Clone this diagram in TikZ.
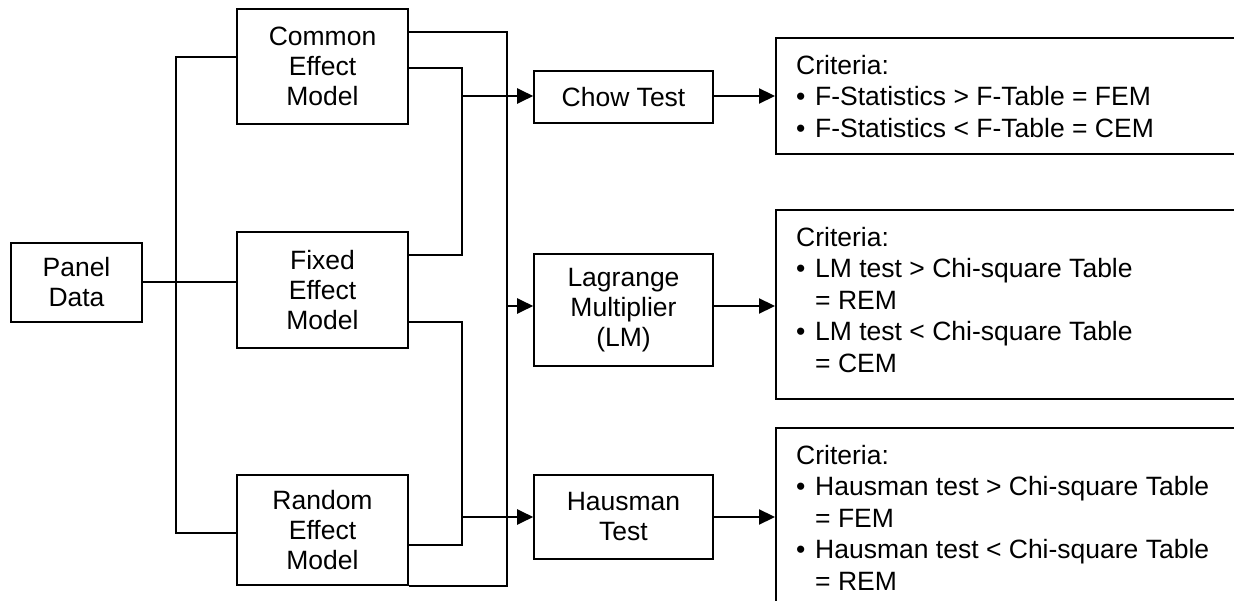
\documentclass[tikz,border=0pt]{standalone}
\usepackage{fontspec}
\setmainfont{Liberation Sans}
\usepackage{tikz}
\usetikzlibrary{arrows.meta}

\tikzset{
	box/.style = {draw, line width=1.6pt, align=center, inner sep=0pt, font=\fontsize{26.5}{30}\selectfont},
	frame/.style = {draw, line width=1.6pt, anchor=north west, inner sep=0pt, minimum width=600pt},
	crit/.style = {anchor=north west, align=left, inner sep=0pt, font=\fontsize{26.5}{31.5}\selectfont},
	wire/.style = {line width=1.6pt},
	flow/.style = {line width=2.2pt, -{Triangle[length=16pt,width=15pt]}}
}
\newcommand{\bul}{\makebox[19pt][l]{\textbullet}}
\newcommand{\hang}{\hspace*{19pt}}

\begin{document}
\begin{tikzpicture}[x=1pt,y=-1pt]
	\path [use as bounding box, clip] (0,0) rectangle (1234,601);
	\node [box, minimum width=131pt, minimum height=79pt] (pd) at (76.5,282.5) {Panel\\Data};
	\node [box, minimum width=171pt, minimum height=115pt] (cem) at (322.5,66.5) {Common\\Effect\\Model};
	\node [box, minimum width=171pt, minimum height=116pt] (fem) at (322.5,290) {Fixed\\Effect\\Model};
	\node [box, minimum width=171pt, minimum height=110pt] (rem) at (322.5,530) {Random\\Effect\\Model};
	\node [box, minimum width=179pt, minimum height=52pt] (chow) at (623.5,97) {Chow Test};
	\node [box, minimum width=179pt, minimum height=112pt] (lm) at (623.5,310) {Lagrange\\Multiplier\\(LM)};
	\node [box, minimum width=179pt, minimum height=84pt] (haus) at (623.5,517) {Hausman\\Test};
	\node [frame, minimum height=116pt] (cr1) at (775,37) {};
	\node [frame, minimum height=189pt] (cr2) at (775,209) {};
	\node [frame, minimum height=300pt] (cr3) at (775,427) {};
	\node [crit] (t1) at ([xshift=21pt,yshift=-18pt]cr1.north west) {Criteria:\\\bul F-Statistics > F-Table = FEM\\\bul F-Statistics < F-Table = CEM};
	\node [crit] (t2) at ([xshift=21pt,yshift=-18pt]cr2.north west) {Criteria:\\\bul LM test > Chi-square Table\\\hang = REM\\\bul LM test < Chi-square Table\\\hang = CEM};
	\node [crit] (t3) at ([xshift=21pt,yshift=-18pt]cr3.north west) {Criteria:\\\bul Hausman test > Chi-square Table\\\hang = FEM\\\bul Hausman test < Chi-square Table\\\hang = REM};

	\coordinate (jl) at (176,282);
	\coordinate (j1) at (462,96);
	\coordinate (j2) at (507,306);
	\coordinate (j3) at (462,517);

	\draw [wire] (pd.east |- jl) -- (fem.west |- jl);
	\draw [wire] ([yshift=9.5pt]cem.west) -| (jl) |- ([yshift=-3pt]rem.west);
	\draw [wire] ([yshift=34.5pt]cem.east) -| (j2) |- (rem.south east);
	\draw [wire] ([yshift=-1.5pt]cem.east) -| (j1) |- ([yshift=35pt]fem.east);
	\draw [wire] ([yshift=-32pt]fem.east) -| (j3) |- ([yshift=-15pt]rem.east);
	\draw [flow] (j1) -- (j1 -| chow.west);
	\draw [flow] (j2) -- (j2 -| lm.west);
	\draw [flow] (j3) -- (j3 -| haus.west);
	\draw [flow] (chow.east |- j1) -- (cr1.west |- j1);
	\draw [flow] (lm.east |- j2) -- (cr2.west |- j2);
	\draw [flow] (haus.east |- j3) -- (cr3.west |- j3);
\end{tikzpicture}
\end{document}
